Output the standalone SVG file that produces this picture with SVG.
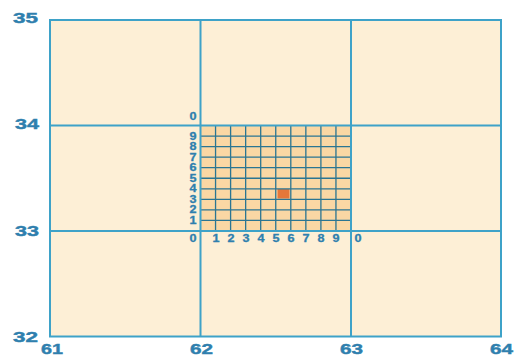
<svg xmlns="http://www.w3.org/2000/svg" width="518" height="359" viewBox="0 0 518 359">
<style>
.big{font-family:"Liberation Sans",Arial,sans-serif;font-weight:bold;font-size:14px;fill:#2f7fae;stroke:#2f7fae;stroke-width:0.4}
.sm{font-family:"Liberation Sans",Arial,sans-serif;font-weight:bold;font-size:10px;fill:#2f7fae;stroke:#2f7fae;stroke-width:0.3;text-anchor:middle;dominant-baseline:central}
.main{stroke:#3ea2c8;stroke-width:2;fill:none}
.fine{stroke:#2b7592;stroke-width:1.3;fill:none}
</style>
<rect width="518" height="359" fill="#ffffff"/>
<g id="outer">
<rect x="50" y="20" width="451" height="316.5" fill="#fdefd6"/>
</g>
<g id="subgrid">
<rect x="200.5" y="125.5" width="150.5" height="105.5" fill="#fad7a4"/>
<rect x="277.5" y="189" width="12" height="9.5" fill="#e4773a"/>
<path class="fine" d="M215.55 125.5V231M230.6 125.5V231M245.65 125.5V231M260.7 125.5V231M275.75 125.5V231M290.8 125.5V231M305.85 125.5V231M320.9 125.5V231M335.95 125.5V231M200.5 136.05H351M200.5 146.6H351M200.5 157.15H351M200.5 167.7H351M200.5 178.25H351M200.5 188.8H351M200.5 199.35H351M200.5 209.9H351M200.5 220.45H351"/>
</g>
<g id="mainlines">
<rect class="main" x="50" y="20" width="451" height="316.5"/>
<path class="main" d="M200.5 20V336.5M351 20V336.5M50 125.5H501M50 231H501"/>
</g>
<g id="labels">
<text class="big" x="13" y="23" textLength="25" lengthAdjust="spacingAndGlyphs">35</text>
<text class="big" x="15" y="128.5" textLength="24" lengthAdjust="spacingAndGlyphs">34</text>
<text class="big" x="15" y="236" textLength="24" lengthAdjust="spacingAndGlyphs">33</text>
<text class="big" x="13" y="342" textLength="25" lengthAdjust="spacingAndGlyphs">32</text>
<text class="big" x="41" y="354" textLength="22" lengthAdjust="spacingAndGlyphs">61</text>
<text class="big" x="190" y="354" textLength="23" lengthAdjust="spacingAndGlyphs">62</text>
<text class="big" x="340" y="354" textLength="23" lengthAdjust="spacingAndGlyphs">63</text>
<text class="big" x="490" y="354" textLength="23" lengthAdjust="spacingAndGlyphs">64</text>
</g>
<g id="smalllabels">
<text class="sm" x="193" y="116" textLength="7" lengthAdjust="spacingAndGlyphs">0</text>
<text class="sm" x="193" y="136" textLength="7" lengthAdjust="spacingAndGlyphs">9</text>
<text class="sm" x="193" y="146.6" textLength="7" lengthAdjust="spacingAndGlyphs">8</text>
<text class="sm" x="193" y="157.2" textLength="7" lengthAdjust="spacingAndGlyphs">7</text>
<text class="sm" x="193" y="167.7" textLength="7" lengthAdjust="spacingAndGlyphs">6</text>
<text class="sm" x="193" y="178.3" textLength="7" lengthAdjust="spacingAndGlyphs">5</text>
<text class="sm" x="193" y="188.8" textLength="7" lengthAdjust="spacingAndGlyphs">4</text>
<text class="sm" x="193" y="199.4" textLength="7" lengthAdjust="spacingAndGlyphs">3</text>
<text class="sm" x="193" y="209.9" textLength="7" lengthAdjust="spacingAndGlyphs">2</text>
<text class="sm" x="193" y="220.5" textLength="7" lengthAdjust="spacingAndGlyphs">1</text>
<text class="sm" x="193" y="238" textLength="7" lengthAdjust="spacingAndGlyphs">0</text>
<text class="sm" x="216" y="238" textLength="7" lengthAdjust="spacingAndGlyphs">1</text>
<text class="sm" x="231" y="238" textLength="7" lengthAdjust="spacingAndGlyphs">2</text>
<text class="sm" x="246" y="238" textLength="7" lengthAdjust="spacingAndGlyphs">3</text>
<text class="sm" x="261" y="238" textLength="7" lengthAdjust="spacingAndGlyphs">4</text>
<text class="sm" x="276" y="238" textLength="7" lengthAdjust="spacingAndGlyphs">5</text>
<text class="sm" x="291" y="238" textLength="7" lengthAdjust="spacingAndGlyphs">6</text>
<text class="sm" x="306" y="238" textLength="7" lengthAdjust="spacingAndGlyphs">7</text>
<text class="sm" x="321" y="238" textLength="7" lengthAdjust="spacingAndGlyphs">8</text>
<text class="sm" x="336" y="238" textLength="7" lengthAdjust="spacingAndGlyphs">9</text>
<text class="sm" x="358" y="238" textLength="7" lengthAdjust="spacingAndGlyphs">0</text>
</g>
</svg>
